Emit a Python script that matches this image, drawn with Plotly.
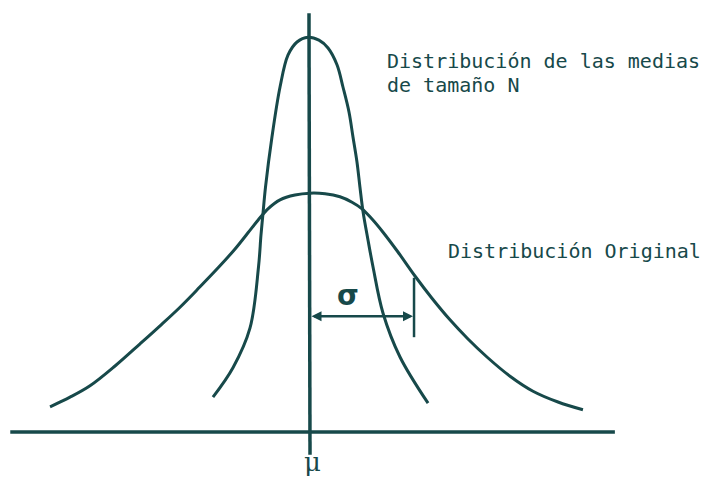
import plotly.graph_objects as go

# x in units of sigma (relative to mu), y = curve height (relative units)
wide_x = [-2.524, -2.330, -2.136, -1.893, -1.650, -1.456, -1.262, -1.068, -0.874, -0.728, -0.602, -0.505,
          -0.408, -0.291, -0.146, 0.0, 0.146, 0.291, 0.408, 0.505, 0.602, 0.709, 0.854, 1.019, 1.184, 1.359,
          1.534, 1.718, 1.942, 2.165, 2.408, 2.650]
wide_y = [0.042, 0.058, 0.077, 0.110, 0.147, 0.177, 0.208, 0.242, 0.277, 0.305, 0.332, 0.353,
          0.372, 0.387, 0.395, 0.398, 0.397, 0.392, 0.383, 0.372, 0.355, 0.333, 0.300, 0.260, 0.223, 0.187,
          0.155, 0.125, 0.093, 0.068, 0.050, 0.037]

narrow_x = [-0.942, -0.748, -0.583, -0.500, -0.476, -0.456, -0.432, -0.369, -0.291,
            -0.214, -0.126, -0.019, 0.087, 0.175, 0.262, 0.320, 0.379, 0.417, 0.456, 0.485, 0.515, 0.563,
            0.612, 0.709, 0.874, 1.146]
narrow_y = [0.058, 0.107, 0.173, 0.275, 0.328, 0.365, 0.408, 0.492, 0.575,
            0.628, 0.650, 0.658, 0.653, 0.640, 0.612, 0.575, 0.533, 0.492, 0.450, 0.408, 0.367, 0.320,
            0.275, 0.198, 0.125, 0.048]

label_medias = ["Distribución de las medias", "de tamaño N"]
label_original = "Distribución Original"
sigma_label = "σ"
mu_label = "μ"

INK = "#17494a"

fig = go.Figure()
fig.add_trace(go.Scatter(x=wide_x, y=wide_y, mode="lines",
                         line=dict(color=INK, width=3, shape="spline", smoothing=1.0),
                         hoverinfo="skip", showlegend=False))
fig.add_trace(go.Scatter(x=narrow_x, y=narrow_y, mode="lines",
                         line=dict(color=INK, width=3, shape="spline", smoothing=1.0),
                         hoverinfo="skip", showlegend=False))

# horizontal axis line and vertical mu line
fig.add_shape(type="line", x0=-2.91, x1=2.96, y0=0, y1=0, line=dict(color=INK, width=3.5))
fig.add_shape(type="line", x0=-0.01, x1=0.0, y0=0.698, y1=-0.038, line=dict(color=INK, width=3.5))
# sigma tick
fig.add_shape(type="line", x0=1.01, x1=1.01, y0=0.257, y1=0.158, line=dict(color=INK, width=2.5))
# sigma double arrow
fig.add_annotation(x=1.0, y=0.193, ax=0.0, ay=0.193, xref="x", yref="y", axref="x", ayref="y",
                   showarrow=True, arrowhead=2, startarrowhead=2, arrowside="end+start",
                   arrowsize=0.8, startarrowsize=0.8, arrowwidth=2.5, arrowcolor=INK, text="")

fig.add_annotation(x=0.37, y=0.228, xref="x", yref="y", text="<b>" + sigma_label + "</b>", showarrow=False,
                   font=dict(family="DejaVu Sans", size=28, color=INK))
fig.add_annotation(x=0.02, y=-0.05, xref="x", yref="y", text=mu_label, showarrow=False,
                   font=dict(family="DejaVu Serif", size=26, color=INK))

mono = dict(family="DejaVu Sans Mono", size=20, color=INK)
fig.add_annotation(x=385 / 706, y=1 - 61 / 480, xref="paper", yref="paper", xanchor="left", yanchor="middle",
                   text=label_medias[0], showarrow=False, font=mono)
fig.add_annotation(x=385 / 706, y=1 - 85 / 480, xref="paper", yref="paper", xanchor="left", yanchor="middle",
                   text=label_medias[1], showarrow=False, font=mono)
fig.add_annotation(x=446 / 706, y=1 - 251 / 480, xref="paper", yref="paper", xanchor="left", yanchor="middle",
                   text=label_original, showarrow=False, font=mono)

fig.update_layout(width=706, height=480, margin=dict(l=0, r=0, t=0, b=0),
                  plot_bgcolor="white", paper_bgcolor="white")
fig.update_xaxes(range=[-310 / 103, 396 / 103], visible=False, fixedrange=True)
fig.update_yaxes(range=[-48 / 600, 432 / 600], visible=False, fixedrange=True)

fig.write_html("out.html", config={"displayModeBar": False},
               post_script="document.body.style.margin='0';document.body.style.overflow='hidden';")
